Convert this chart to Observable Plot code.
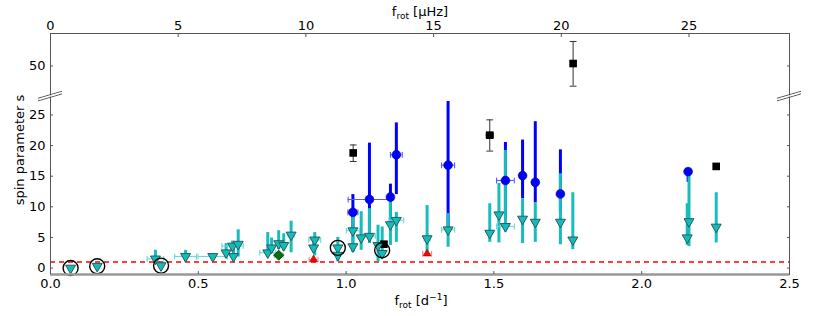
<!DOCTYPE html>
<html><head><meta charset="utf-8">
<script src="https://cdn.jsdelivr.net/npm/d3@7"></script>
<script src="https://cdn.jsdelivr.net/npm/@observablehq/plot@0.6"></script>
<style>body{margin:0;background:#fff} #chart{width:830px;height:316px}</style>
</head><body><div id="chart"></div>
<script>
// ---- data ----
// cyan downward triangles (upper limits) with vertical ranges and optional x errors
const triX   = [0.068,0.158,0.374,0.355,0.457,0.549,0.594,0.616,0.619,0.635,0.735,0.748,0.772,0.789,0.814,0.894,0.890,0.972,0.972,1.023,1.023,1.051,1.079,1.108,1.122,1.150,1.170,1.274,1.345,1.486,1.517,1.539,1.597,1.640,1.725,1.767,2.160,2.154,2.252];
const triY   = [0.0,0.3,0.4,1.5,1.9,1.9,2.5,3.6,1.9,3.9,2.5,3.3,4.0,3.7,5.4,4.6,3.3,3.3,2.1,6.1,3.5,4.95,5.2,3.7,2.4,7.1,7.8,4.8,6.25,5.7,8.7,6.8,8.0,7.5,7.5,4.6,7.6,4.95,6.7];
const triLo  = [0.0,0.3,0.4,0.8,1.0,1.9,1.6,2.6,1.5,1.8,1.8,2.4,3.0,2.8,2.5,2.0,2.5,2.5,1.0,2.6,2.6,2.9,4.0,1.0,1.5,3.7,4.2,2.4,3.4,4.2,4.1,5.9,4.0,4.2,3.8,3.0,3.5,3.7,4.1];
const triHi  = [0.0,0.3,0.4,2.9,2.9,1.9,4.0,4.4,3.0,6.25,5.8,4.9,6.1,5.6,7.65,5.8,4.5,5.0,3.5,8.9,5.5,9.2,9.7,7.0,6.7,11.0,9.1,10.2,8.9,10.5,13.8,19.2,11.3,10.7,15.4,12.3,15.75,10.5,12.3];
const triXerr= [0,0,0,0.028,0.037,0.05,0,0.036,0,0,0.027,0,0,0,0.01,0.02,0,0,0,0.022,0,0,0.02,0,0,0,0.025,0.01,0.022,0,0,0.03,0,0,0,0,0,0,0];
// blue circles
const circX   = [1.023,1.079,1.150,1.170,1.345,1.539,1.597,1.640,1.725,2.157];
const circY   = [9.1,11.2,11.6,18.5,16.8,14.3,15.1,14.0,12.1,15.75];
const circLo  = [6.0,5.0,7.0,12.0,6.5,8.0,11.3,10.7,9.0,14.0];
const circHi  = [12.0,20.4,13.7,23.7,27.2,20.5,20.9,23.9,19.3,15.75];
const circXerr= [0.017,0.072,0.01,0.02,0.022,0.03,0,0,0,0];
// black squares
const sqX   = [1.024,1.128,1.486,1.768,2.252];
const sqY   = [18.8,3.9,21.7,50.4,16.6];
const sqLo  = [17.4,3.6,19.1,46.7,16.6];
const sqHi  = [20.1,4.2,24.2,54.0,16.6];
const sqXerr= [0.008,0.008,0.012,0,0];
// red upward triangles
const redX = [0.890,1.274];
const redY = [1.4,2.35];
const redXerr = [0.015,0.015];
// green diamond
const grnX = [0.772];
const grnY = [2.1];
const grnXerr = [0.015];
// open black rings
const ringX = [0.068,0.158,0.374,0.972,1.122];
const ringY = [0.0,0.3,0.4,3.3,2.9];
// reference line and axes
const sLine = [1];
const xTicks = [0,0.5,1.0,1.5,2.0,2.5];
const muTicks = [0,5,10,15,20,25];
const yTicks = [0,5,10,15,20,25,50];
const dPerMuHz = 0.0864;
// broken y axis: lower panel [-1.05, 28], upper panel [45, 55.3]
const breakLow = 28, breakHigh = 45, yMin = -1.05, yMax = 55.3;

// ---- broken-axis mapping (upper panel shifted down to sit on the lower one) ----
const gap = breakHigh - breakLow;
const vy = y => (y > breakLow ? y - gap : y);

// ---- tables ----
const zip = (xs, f) => xs.map((_, i) => f(i));
const tri = zip(triX, i => ({x: triX[i], y: vy(triY[i]), lo: vy(triLo[i]), hi: vy(triHi[i]), xe: triXerr[i]}));
const circ = zip(circX, i => ({x: circX[i], y: vy(circY[i]), lo: vy(circLo[i]), hi: vy(circHi[i]), xe: circXerr[i]}));
const sq = zip(sqX, i => ({x: sqX[i], y: vy(sqY[i]), lo: vy(sqLo[i]), hi: vy(sqHi[i]), xe: sqXerr[i]}));
const red = zip(redX, i => ({x: redX[i], y: vy(redY[i]), xe: redXerr[i]}));
const grn = zip(grnX, i => ({x: grnX[i], y: vy(grnY[i]), xe: grnXerr[i]}));
const rings = zip(ringX, i => ({x: ringX[i], y: vy(ringY[i])}));
const yTickRows = yTicks.map(t => ({v: vy(t), label: String(t)}));

const capShape = {draw(ctx, l) { ctx.moveTo(0, 0); ctx.lineTo(0, -l); }};
function xErr(data, stroke, w = 1.1) {
  const d = data.filter(e => e.xe > 0);
  return [
    Plot.ruleY(d, {y: "y", x1: e => e.x - e.xe, x2: e => e.x + e.xe, stroke, strokeWidth: w}),
    Plot.vector(d, {x: e => e.x - e.xe, y: "y", length: 5, rotate: 0, anchor: "middle", shape: capShape, stroke, strokeWidth: w}),
    Plot.vector(d, {x: e => e.x + e.xe, y: "y", length: 5, rotate: 0, anchor: "middle", shape: capShape, stroke, strokeWidth: w})
  ];
}

const W = 830, H = 316;
const plot = Plot.plot({
  width: W, height: H,
  marginLeft: 50, marginRight: 41, marginTop: 33, marginBottom: 42,
  style: {fontFamily: "DejaVu Sans", fontSize: "13px", background: "#fff"},
  x: {domain: [0, 2.5]},
  y: {domain: [yMin, vy(yMax)]},
  marks: [
    Plot.ruleY(sLine.map(vy), {stroke: "red", strokeWidth: 1.6, strokeDasharray: "5,4"}),
    // blue vertical bars (under cyan)
    Plot.ruleX(circ, {x: "x", y1: "lo", y2: "hi", stroke: "#0000ff", strokeWidth: 3}),
    // cyan vertical bars
    Plot.ruleX(tri.filter(d => d.hi > d.lo), {x: "x", y1: "lo", y2: "hi", stroke: "#17bcbc", strokeWidth: 3}),
    ...xErr(tri, "#6fd6d6"),
    ...xErr(circ, "#5a5aff"),
    ...xErr(red, "#ff8a8a"),
    ...xErr(grn, "#7fcf7f"),
    // black square errors
    Plot.ruleX(sq.filter(d => d.hi > d.lo), {x: "x", y1: "lo", y2: "hi", stroke: "#333", strokeWidth: 1}),
    Plot.vector(sq.filter(d => d.hi > d.lo), {x: "x", y: "lo", length: 6, rotate: 90, anchor: "middle", shape: capShape, stroke: "#333", strokeWidth: 1}),
    Plot.vector(sq.filter(d => d.hi > d.lo), {x: "x", y: "hi", length: 6, rotate: 90, anchor: "middle", shape: capShape, stroke: "#333", strokeWidth: 1}),
    ...xErr(sq, "#333", 1),
    // markers
    Plot.dot(circ, {x: "x", y: "y", r: 4.4, fill: "#0000ff", stroke: "#0000a0", strokeWidth: 0.6}),
    Plot.dot(sq, {x: "x", y: "y", symbol: "square", r: 4.3, fill: "#000"}),
    Plot.dot(red, {x: "x", y: "y", symbol: "triangle", r: 2.9, fill: "#ff0000", stroke: "#900", strokeWidth: 0.6}),
    Plot.dot(grn, {x: "x", y: "y", symbol: "square", rotate: 45, r: 4, fill: "#0a6e0a", stroke: "#033", strokeWidth: 0.8}),
    Plot.dot(tri, {x: "x", y: "y", symbol: "triangle", rotate: 180, r: 3.7, fill: "#12bcbc", stroke: "#2a5c5c", strokeWidth: 1}),
    Plot.dot(rings, {x: "x", y: "y", r: 7.5, stroke: "#000", strokeWidth: 1.4, fill: "none"}),
    // frame and axes
    Plot.frame({stroke: "#555", strokeWidth: 1}),
    Plot.ruleY([yMin], {stroke: "#999", strokeWidth: 2.5}),
    Plot.axisX(xTicks, {anchor: "bottom", tickSize: -3, tickPadding: 7, tickFormat: d3.format(".1f"), label: null, stroke: "#555", fill: "#000"}),
    Plot.axisX(muTicks.map(v => v * dPerMuHz), {anchor: "top", tickSize: -3, tickPadding: 7, tickFormat: d => String(Math.round(d / dPerMuHz)), label: null, stroke: "#555", fill: "#000"}),
    Plot.axisY(yTickRows.map(d => d.v), {anchor: "left", tickSize: -3, tickPadding: 8, tickFormat: (d, i) => yTickRows[i].label, label: null, stroke: "#555", fill: "#000"}),
    Plot.axisY(yTickRows.map(d => d.v), {anchor: "right", tickSize: -3, tickFormat: () => "", label: null, stroke: "#555"})
  ]
});
document.getElementById("chart").appendChild(plot);

// ---- axis labels and break marks ----
const svg = d3.select(plot);
const xs = plot.scale("x"), ys = plot.scale("y");
function label(x, y, parts, rotate) {
  const t = svg.append("text").attr("text-anchor", "middle")
    .attr("font-family", "DejaVu Sans").attr("font-size", 13).attr("fill", "#000")
    .attr("transform", `translate(${x},${y})` + (rotate ? ` rotate(${rotate})` : ""));
  parts.forEach(([s, size, dy]) => t.append("tspan").attr("font-size", size).attr("dy", dy).text(s));
}
label(420, 16, [["f", 13, 0], ["rot", 9, 3], [" [μHz]", 13, -3]]);
label(421, 305, [["f", 13, 0], ["rot", 9, 3], [" [d", 13, -3], ["−1", 9, -5], ["]", 13, 5]]);
label(24, 150, [["spin parameter s", 13, 0]], -90);
const yb = ys.apply(breakLow);
[xs.apply(0), xs.apply(2.5)].forEach(xb => {
  [-1.3, 1.3].forEach(o => {
    svg.append("line").attr("x1", xb - 12).attr("y1", yb + 3.5 + o).attr("x2", xb + 12).attr("y2", yb - 3.5 + o)
      .attr("stroke", "#444").attr("stroke-width", 0.9);
  });
  svg.append("line").attr("x1", xb - 10).attr("y1", yb + 2.9).attr("x2", xb + 10).attr("y2", yb - 2.9)
    .attr("stroke", "#fff").attr("stroke-width", 1.2);
});
</script></body></html>
